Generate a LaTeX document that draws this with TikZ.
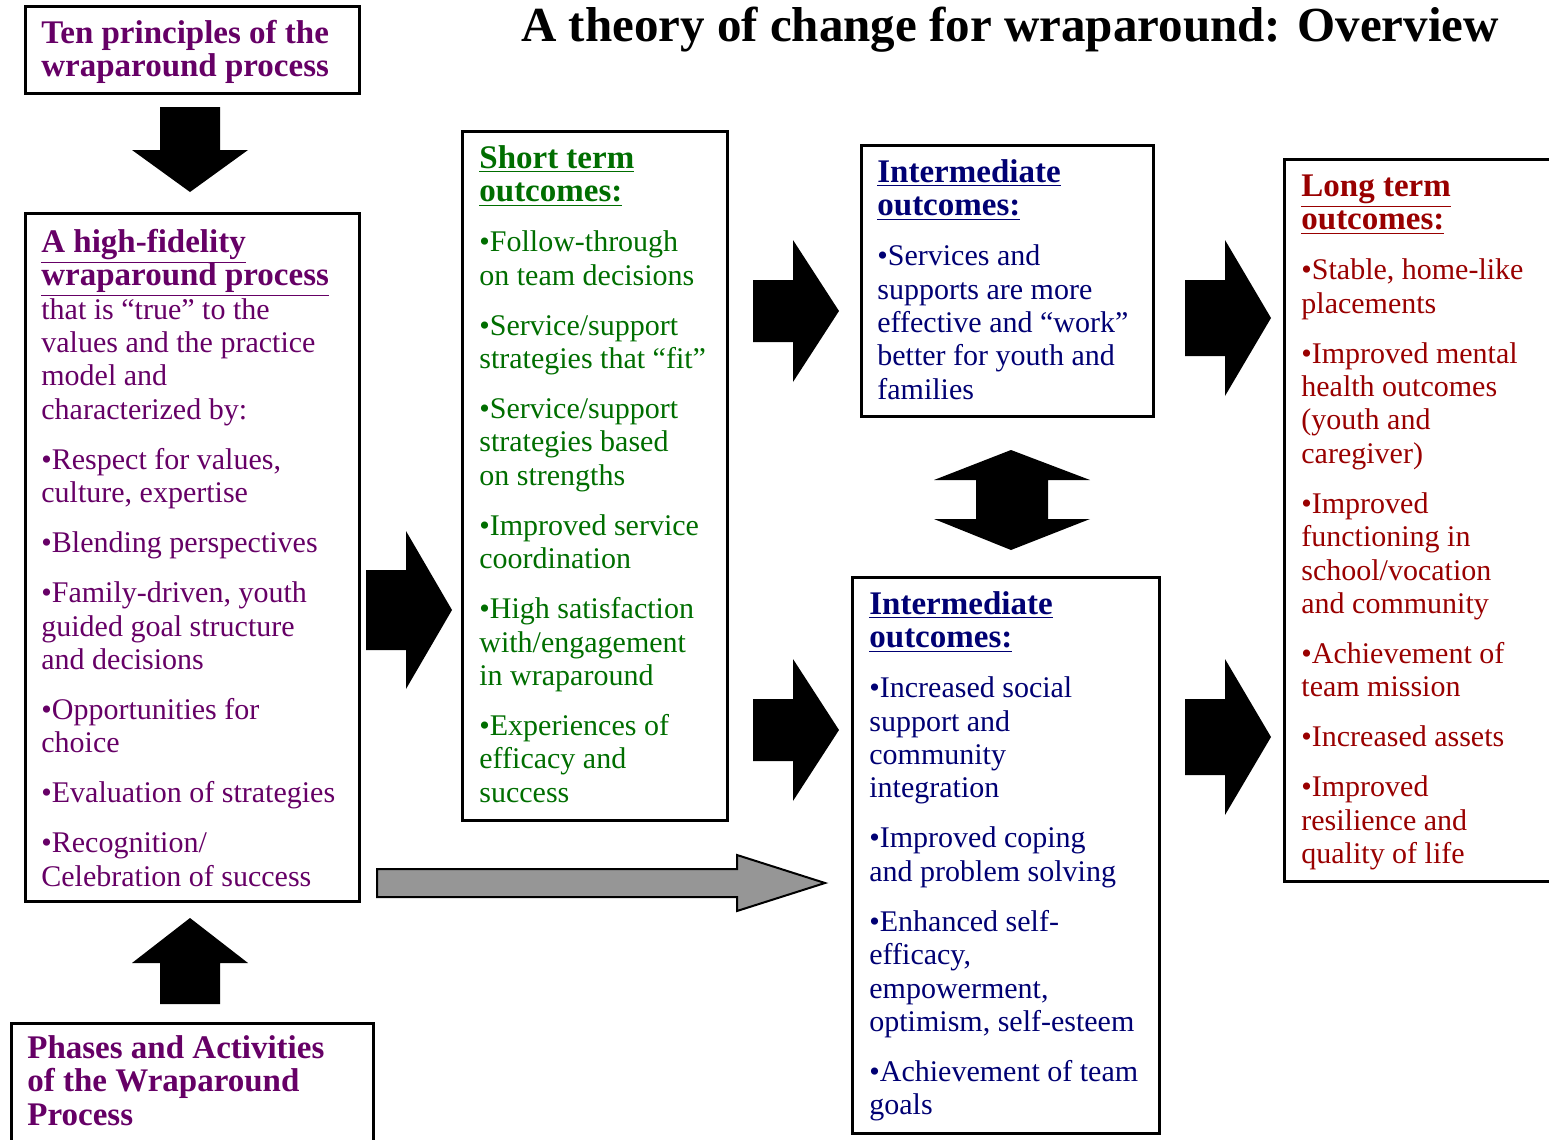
\documentclass[tikz,border=0pt]{standalone}
\usepackage{fontspec}
\setmainfont{Liberation Serif}
\definecolor{wpurple}{RGB}{102,0,102}
\definecolor{wgreen}{RGB}{0,110,0}
\definecolor{wnavy}{RGB}{0,0,115}
\definecolor{wred}{RGB}{153,0,0}
\definecolor{arrowgray}{RGB}{150,150,150}
\newcommand{\hd}[1]{{\fontsize{16.5}{16.7}\selectfont\bfseries #1}}
\newcommand{\uhd}[1]{\smash{\underline{\hd{#1}}}}
\tikzset{
  box/.style={draw, line width=1.25pt, anchor=north west, inner sep=0pt},
  txt/.style={anchor=north west, inner sep=0pt, align=left, font=\fontsize{15}{16.7}\selectfont},
}
\begin{document}
\begin{tikzpicture}[x=0.5pt, y=-0.5pt, line join=miter]
  \useasboundingbox (0,0) rectangle (1549,1140);
  % title
  \node[anchor=base, font=\fontsize{24.5}{28}\selectfont\bfseries] (title) at (1010,41) {A theory of change for wraparound: Overview};
  % boxes
  \node[box, minimum width=167pt, minimum height=43.5pt] (principles) at (24,5) {};
  \node[box, minimum width=167pt, minimum height=344pt] (process) at (24,212) {};
  \node[box, minimum width=181pt, minimum height=70pt] (phases) at (10,1022) {};
  \node[box, minimum width=132.5pt, minimum height=344.5pt] (short) at (461,130) {};
  \node[box, minimum width=146pt, minimum height=135.5pt] (interA) at (860,144) {};
  \node[box, minimum width=153.5pt, minimum height=278pt] (interB) at (851,576) {};
  \node[box, minimum width=150pt, minimum height=361pt] (long) at (1283,158) {};
  % texts
  \node[txt, text=wpurple] (principlestxt) at ([shift={(17,14.6)}]principles.north west)
    {\strut\hd{Ten principles of the}\\\hd{wraparound process}};
  \node[txt, text=wpurple] (processtxt) at ([shift={(17,16.6)}]process.north west)
    {\strut\uhd{A high-fidelity}\\\uhd{wraparound process}\\that is “true” to the\\values and the practice\\model and\\characterized by:\\[8.3pt]
     \textbullet Respect for values,\\culture, expertise\\[8.3pt]
     \textbullet Blending perspectives\\[8.3pt]
     \textbullet Family-driven, youth\\guided goal structure\\and decisions\\[8.3pt]
     \textbullet Opportunities for\\choice\\[8.3pt]
     \textbullet Evaluation of strategies\\[8.3pt]
     \textbullet Recognition/\\Celebration of success};
  \node[txt, text=wpurple] (phasestxt) at ([shift={(17,12.6)}]phases.north west)
    {\strut\hd{Phases and Activities}\\\hd{of the Wraparound}\\\hd{Process}};
  \node[txt, text=wgreen] (shorttxt) at ([shift={(18,14.6)}]short.north west)
    {\strut\uhd{Short term}\\\uhd{outcomes:}\\[8.3pt]
     \textbullet Follow-through\\on team decisions\\[8.3pt]
     \textbullet Service/support\\strategies that “fit”\\[8.3pt]
     \textbullet Service/support\\strategies based\\on strengths\\[8.3pt]
     \textbullet Improved service\\coordination\\[8.3pt]
     \textbullet High satisfaction\\with/engagement\\in wraparound\\[8.3pt]
     \textbullet Experiences of\\efficacy and\\success};
  \node[txt, text=wnavy] (interAtxt) at ([shift={(17,14.6)}]interA.north west)
    {\strut\uhd{Intermediate}\\\uhd{outcomes:}\\[8.3pt]
     \textbullet Services and\\supports are more\\effective and “work”\\better for youth and\\families};
  \node[txt, text=wnavy] (interBtxt) at ([shift={(18,14.6)}]interB.north west)
    {\strut\uhd{Intermediate}\\\uhd{outcomes:}\\[8.3pt]
     \textbullet Increased social\\support and\\community\\integration\\[8.3pt]
     \textbullet Improved coping\\and problem solving\\[8.3pt]
     \textbullet Enhanced self-\\efficacy,\\empowerment,\\optimism, self-esteem\\[8.3pt]
     \textbullet Achievement of team\\goals};
  \node[txt, text=wred] (longtxt) at ([shift={(18,14.6)}]long.north west)
    {\strut\uhd{Long term}\\\uhd{outcomes:}\\[8.3pt]
     \textbullet Stable, home-like\\placements\\[8.3pt]
     \textbullet Improved mental\\health outcomes\\(youth and\\caregiver)\\[8.3pt]
     \textbullet Improved\\functioning in\\school/vocation\\and community\\[8.3pt]
     \textbullet Achievement of\\team mission\\[8.3pt]
     \textbullet Increased assets\\[8.3pt]
     \textbullet Improved\\resilience and\\quality of life};
  % block arrows
  \fill (160,107) -- (220,107) -- (220,150) -- (248,150) -- (190,192) -- (132,150) -- (160,150) -- cycle;
  \fill (190,918) -- (248,963) -- (220,963) -- (220,1004) -- (160,1004) -- (160,963) -- (132,963) -- cycle;
  \foreach \xa/\ym/\sh/\hh in {366/610/40/79, 753/311/31/71, 753/730/31/71, 1185/318/38/78, 1185/737/38/78}
    \fill (\xa,\ym-\sh) -- (\xa+40,\ym-\sh) -- (\xa+40,\ym-\hh) -- (\xa+86,\ym) -- (\xa+40,\ym+\hh) -- (\xa+40,\ym+\sh) -- (\xa,\ym+\sh) -- cycle;
  \fill (1011,450) -- (1090,480) -- (1048,480) -- (1048,519) -- (1090,519) -- (1011,550) -- (934,519) -- (976,519) -- (976,480) -- (934,480) -- cycle;
  \draw[fill=arrowgray, line width=1pt] (377,869) -- (737,869) -- (737,855) -- (825,883) -- (737,911) -- (737,897) -- (377,897) -- cycle;
\end{tikzpicture}
\end{document}
